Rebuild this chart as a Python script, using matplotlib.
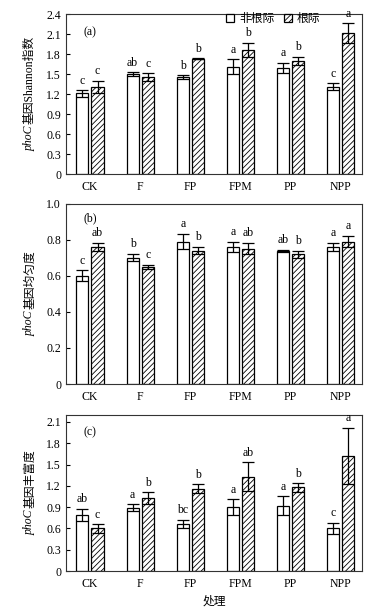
import matplotlib
matplotlib.use("Agg")
import matplotlib.pyplot as plt
import numpy as np
from matplotlib.patches import Patch

plt.rcParams["font.family"] = ["Liberation Serif", "Noto Sans CJK SC"]
plt.rcParams["hatch.linewidth"] = 0.6

treatments = ["CK", "F", "FP", "FPM", "PP", "NPP"]

# (a) Shannon index
shannon_bulk = [1.21, 1.50, 1.45, 1.61, 1.59, 1.31]
shannon_bulk_err = [0.05, 0.03, 0.03, 0.11, 0.08, 0.05]
shannon_rhizo = [1.31, 1.45, 1.73, 1.86, 1.70, 2.11]
shannon_rhizo_err = [0.09, 0.06, 0.005, 0.11, 0.06, 0.15]
shannon_bulk_sig = ["c", "ab", "b", "a", "a", "c"]
shannon_rhizo_sig = ["c", "c", "b", "b", "b", "a"]

# (b) evenness
even_bulk = [0.60, 0.70, 0.79, 0.76, 0.74, 0.76]
even_bulk_err = [0.03, 0.02, 0.04, 0.03, 0.005, 0.02]
even_rhizo = [0.76, 0.65, 0.74, 0.75, 0.72, 0.79]
even_rhizo_err = [0.02, 0.01, 0.02, 0.03, 0.02, 0.03]
even_bulk_sig = ["c", "b", "a", "a", "ab", "a"]
even_rhizo_sig = ["ab", "c", "b", "ab", "b", "a"]

# (c) richness
rich_bulk = [0.79, 0.89, 0.66, 0.90, 0.92, 0.60]
rich_bulk_err = [0.09, 0.05, 0.06, 0.11, 0.13, 0.08]
rich_rhizo = [0.60, 1.03, 1.16, 1.33, 1.18, 1.62]
rich_rhizo_err = [0.06, 0.08, 0.06, 0.20, 0.06, 0.40]
rich_bulk_sig = ["ab", "a", "bc", "a", "a", "c"]
rich_rhizo_sig = ["c", "b", "b", "ab", "b", "a"]

panels = [
    ("(a)", "基因Shannon指数", shannon_bulk, shannon_bulk_err,
     shannon_rhizo, shannon_rhizo_err, shannon_bulk_sig, shannon_rhizo_sig,
     (0, 2.4), np.arange(0, 2.41, 0.3), [0.169, 0.717, 0.759, 0.260], 0.887),
    ("(b)", "基因均匀度", even_bulk, even_bulk_err,
     even_rhizo, even_rhizo_err, even_bulk_sig, even_rhizo_sig,
     (0, 1.0), np.arange(0, 1.01, 0.2), [0.169, 0.3756, 0.759, 0.293], 0.92),
    ("(c)", "基因丰富度", rich_bulk, rich_bulk_err,
     rich_rhizo, rich_rhizo_err, rich_bulk_sig, rich_rhizo_sig,
     (0, 2.2), np.arange(0, 2.11, 0.3), [0.169, 0.0715, 0.759, 0.254], 0.885),
]

fig = plt.figure(figsize=(3.9, 6.15), dpi=100)
renderer = fig.canvas.get_renderer()
x = np.arange(len(treatments))
w = 0.24
off = 0.15
fs = 8.5
hatch = "//////"


def ylabel_two_part(ax, rest):
    # italic gene name + upright CJK rest, stacked along a rotated line
    x_fig = 30 / 390
    t1 = fig.text(x_fig, 0, "phoC", rotation=90, style="italic", fontsize=fs,
                  ha="center", va="bottom")
    t2 = fig.text(x_fig, 0, rest, rotation=90, fontsize=fs,
                  ha="center", va="bottom")
    h1 = t1.get_window_extent(renderer).height / fig.bbox.height
    h2 = t2.get_window_extent(renderer).height / fig.bbox.height
    pos = ax.get_position()
    yc = pos.y0 + pos.height / 2
    y0 = yc - (h1 + h2) / 2
    t1.set_y(y0)
    t2.set_y(y0 + h1 + 0.002)


for tag, ylab, b, be, r, re_, bs, rs, ylim, yt, pos, tag_y in panels:
    ax = fig.add_axes(pos)
    ekw = dict(elinewidth=0.9, capthick=0.9, ecolor="black")
    ax.bar(x - off, b, w, yerr=be, capsize=4.3, color="white", edgecolor="black",
           linewidth=0.9, error_kw=ekw)
    ax.bar(x + off, r, w, yerr=re_, capsize=4.3, color="white", edgecolor="black",
           linewidth=0.9, hatch=hatch, error_kw=ekw)
    span = ylim[1] - ylim[0]
    for i in range(len(treatments)):
        ax.text(x[i] - off, b[i] + be[i] + span * 0.022, bs[i], ha="center",
                va="bottom", fontsize=fs)
        ax.text(x[i] + off, r[i] + re_[i] + span * 0.022, rs[i], ha="center",
                va="bottom", fontsize=fs)
    ax.set_xlim(-0.48, 5.42)
    ax.set_ylim(*ylim)
    ax.set_yticks(yt)
    ax.set_yticklabels(["0" if v == 0 else f"{v:.1f}" for v in yt], fontsize=fs)
    ax.set_xticks(x)
    ax.set_xticklabels(treatments, fontsize=fs)
    ax.tick_params(axis="x", length=0, pad=5)
    ax.tick_params(axis="y", direction="in", length=3, width=0.8)
    for s in ax.spines.values():
        s.set_linewidth(0.8)
        s.set_color("#333333")
    ylabel_two_part(ax, ylab)
    ax.text(0.06, tag_y, tag, transform=ax.transAxes, fontsize=fs, va="center")
    if tag == "(a)":
        handles = [Patch(facecolor="white", edgecolor="black", linewidth=0.9),
                   Patch(facecolor="white", edgecolor="black", linewidth=0.9,
                         hatch=hatch)]
        ax.legend(handles, ["非根际", "根际"], ncol=2, loc="upper right",
                  bbox_to_anchor=(0.895, 1.075), frameon=False, fontsize=fs,
                  handlelength=0.7, handleheight=0.7, handletextpad=0.4,
                  columnspacing=0.8)
    if tag == "(c)":
        ax.set_xlabel("处理", fontsize=fs)

fig.savefig("out.png", dpi=100)
